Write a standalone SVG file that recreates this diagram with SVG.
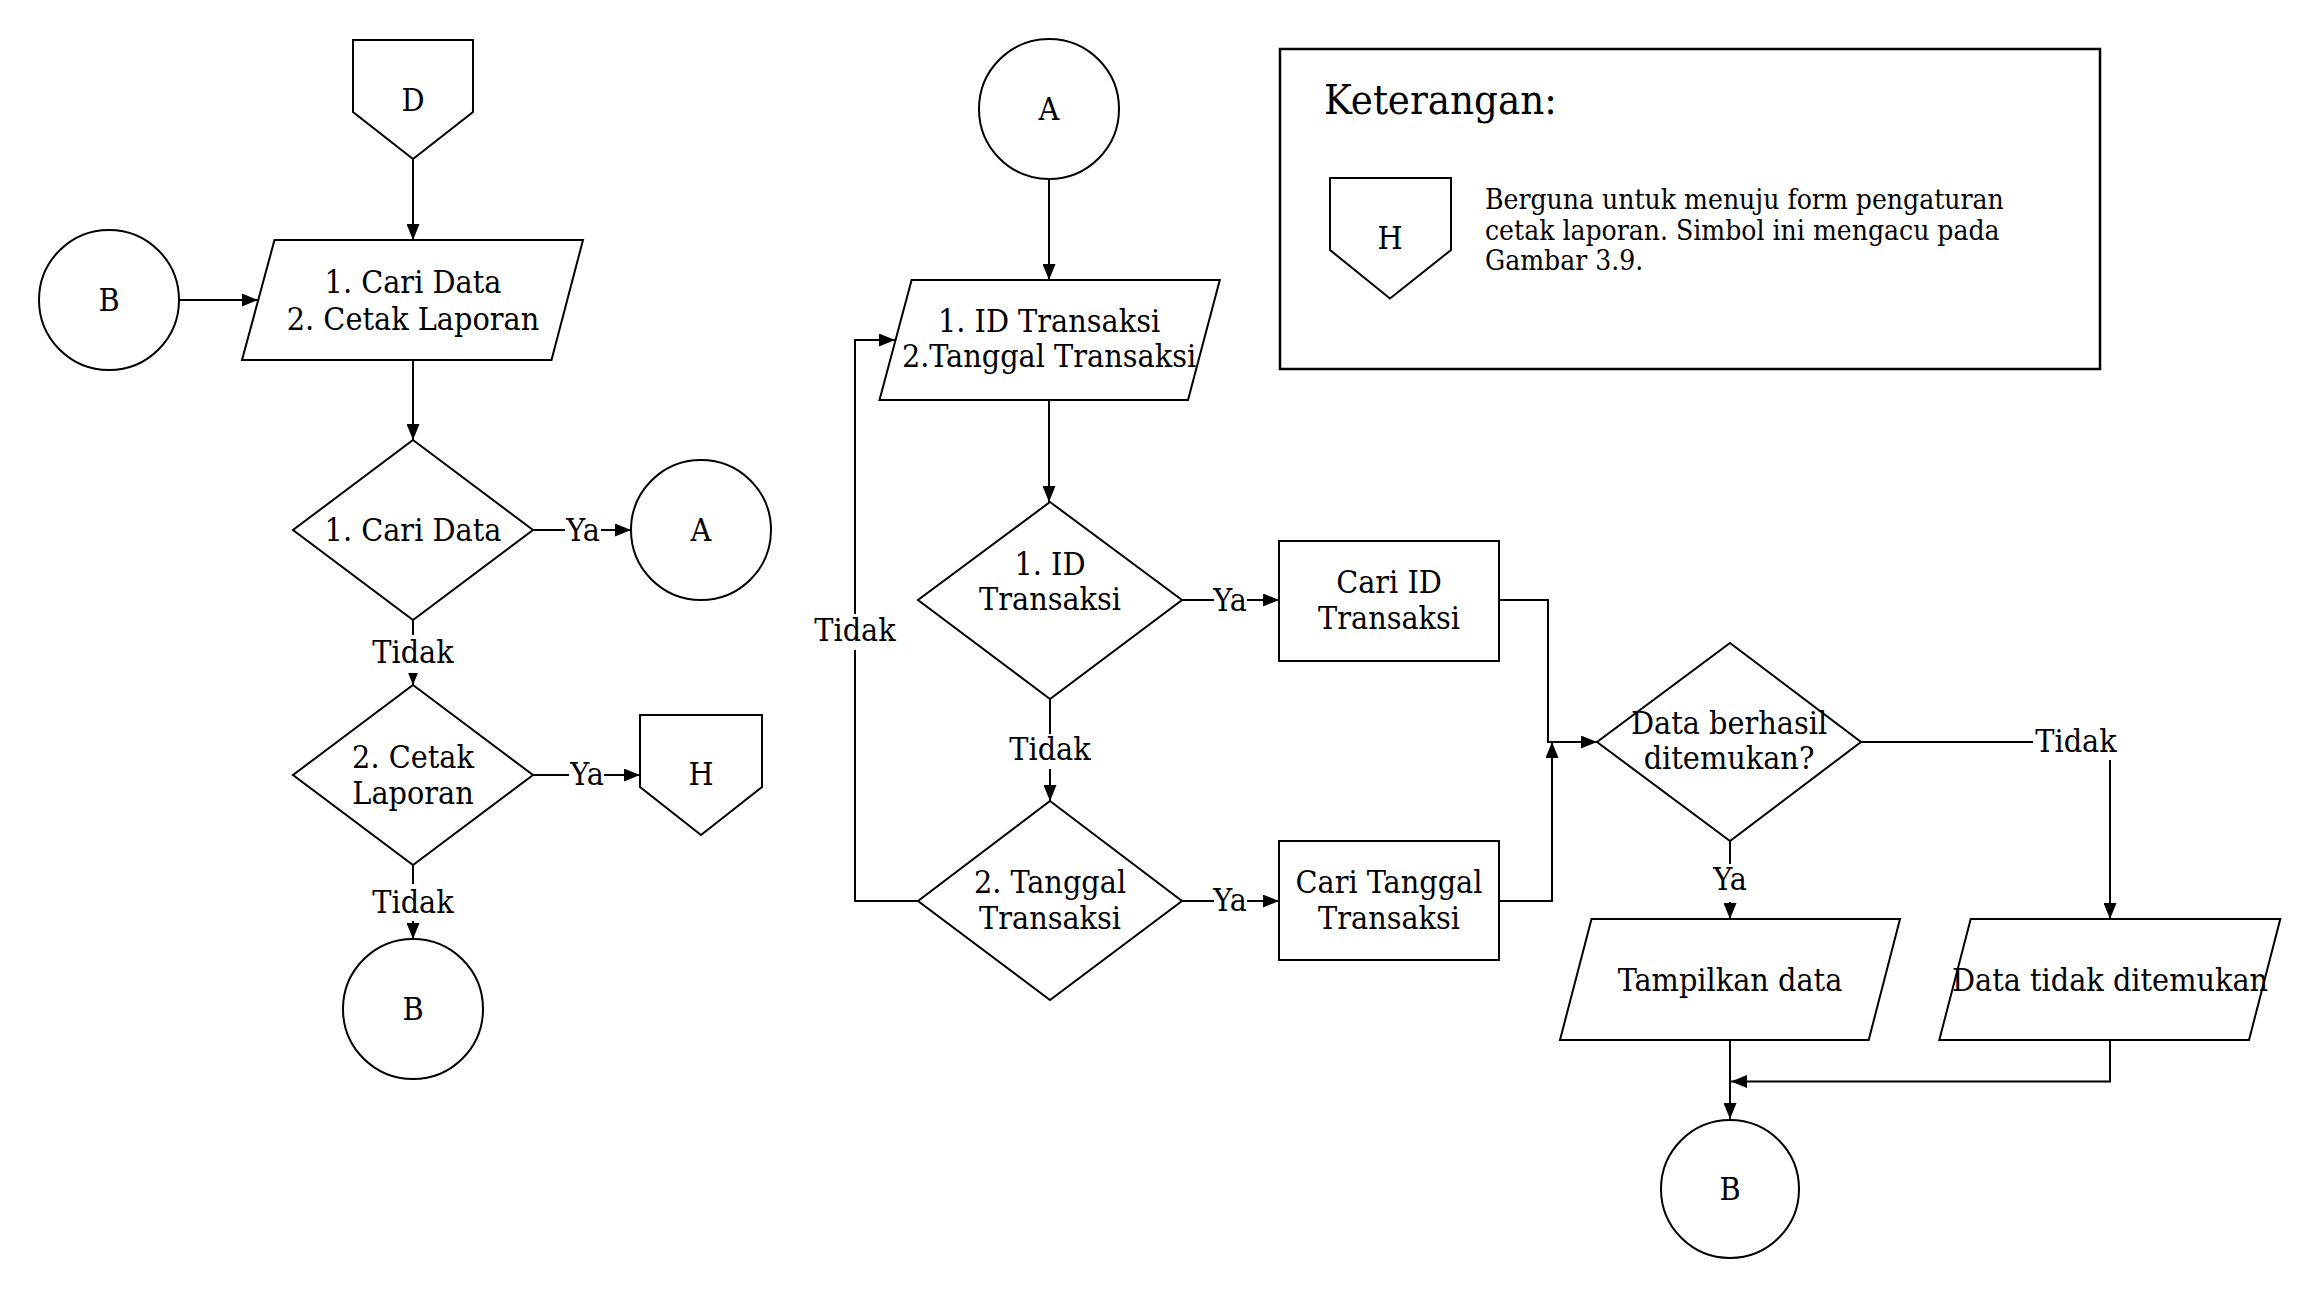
<svg xmlns="http://www.w3.org/2000/svg" width="2320" height="1299" viewBox="0 0 2320 1299">
<style>
.s{fill:#fff;stroke:#000;stroke-width:2}
.t{font-family:"DejaVu Serif","Liberation Serif",serif;font-stretch:condensed;font-size:32px;text-anchor:middle;fill:#000}
.c{fill:none;stroke:#000;stroke-width:2}
.lb{fill:#fff}
</style>
<defs>
<marker id="ah" markerUnits="userSpaceOnUse" markerWidth="16" markerHeight="13" refX="16" refY="6.5" orient="auto"><path d="M0,0 L16,6.5 L0,13 z" fill="#000"/></marker>
</defs>
<rect width="2320" height="1299" fill="#fff"/>
<g id="connectors">
<path class="c" d="M413,159 V240" marker-end="url(#ah)"/>
<path class="c" d="M179,300 H258" marker-end="url(#ah)"/>
<path class="c" d="M413,360 V440" marker-end="url(#ah)"/>
<path class="c" d="M533,530 H631" marker-end="url(#ah)"/>
<path class="c" d="M413,620 V685" marker-end="url(#ah)"/>
<path class="c" d="M533,775 H640" marker-end="url(#ah)"/>
<path class="c" d="M413,865 V939" marker-end="url(#ah)"/>
<path class="c" d="M1049,179 V280" marker-end="url(#ah)"/>
<path class="c" d="M1049,400 V502" marker-end="url(#ah)"/>
<path class="c" d="M1182,600 H1279" marker-end="url(#ah)"/>
<path class="c" d="M1050,699 V801" marker-end="url(#ah)"/>
<path class="c" d="M918,901 H855 V340 H895" marker-end="url(#ah)"/>
<path class="c" d="M1182,901 H1279" marker-end="url(#ah)"/>
<path class="c" d="M1499,600 H1548 V742 H1597" marker-end="url(#ah)"/>
<path class="c" d="M1499,901 H1552 V742" marker-end="url(#ah)"/>
<path class="c" d="M1861,742 H2110 V919" marker-end="url(#ah)"/>
<path class="c" d="M1730,841 V919" marker-end="url(#ah)"/>
<path class="c" d="M1730,1040 V1119" marker-end="url(#ah)"/>
<path class="c" d="M2110,1040 V1081.5 H1731" marker-end="url(#ah)"/>
</g>
<g id="labels">
<rect class="lb" x="565" y="514" width="36" height="34"/><text class="t" x="583" y="541">Ya</text>
<rect class="lb" x="369" y="635" width="88" height="38"/><text class="t" x="413" y="663">Tidak</text>
<rect class="lb" x="569" y="758" width="35" height="34"/><text class="t" x="587" y="785">Ya</text>
<rect class="lb" x="369" y="884" width="88" height="37"/><text class="t" x="413" y="913">Tidak</text>
<rect class="lb" x="1214" y="583" width="33" height="34"/><text class="t" x="1230" y="611">Ya</text>
<rect class="lb" x="1006" y="734" width="88" height="35"/><text class="t" x="1050" y="760">Tidak</text>
<rect class="lb" x="811" y="614" width="88" height="36"/><text class="t" x="855" y="641">Tidak</text>
<rect class="lb" x="1214" y="884" width="33" height="34"/><text class="t" x="1230" y="911">Ya</text>
<rect class="lb" x="2033" y="722" width="88" height="38"/><text class="t" x="2076" y="752">Tidak</text>
<rect class="lb" x="1712" y="864" width="36" height="38"/><text class="t" x="1730" y="890">Ya</text>
</g>
<g id="node-d"><polygon class="s" points="353,40 473,40 473,112 413,159 353,112"/><text class="t" x="413" y="111">D</text></g>
<g id="node-input1"><polygon class="s" points="274.5,240 583,240 551.5,360 242,360"/><text class="t" x="413" y="293">1. Cari Data</text><text class="t" x="413" y="330">2. Cetak Laporan</text></g>
<g id="node-b1"><circle class="s" cx="109" cy="300" r="70"/><text class="t" x="109" y="311">B</text></g>
<g id="node-dec1"><polygon class="s" points="413,440 533,530 413,620 293,530"/><text class="t" x="413" y="541">1. Cari Data</text></g>
<g id="node-a1"><circle class="s" cx="701" cy="530" r="70"/><text class="t" x="701" y="541">A</text></g>
<g id="node-dec2"><polygon class="s" points="413,685 533,775 413,865 293,775"/><text class="t" x="413" y="768">2. Cetak</text><text class="t" x="413" y="804">Laporan</text></g>
<g id="node-h1"><polygon class="s" points="640,715 762,715 762,787 701,835 640,787"/><text class="t" x="701" y="785">H</text></g>
<g id="node-b2"><circle class="s" cx="413" cy="1009" r="70"/><text class="t" x="413" y="1020">B</text></g>
<g id="node-a2"><circle class="s" cx="1049" cy="109" r="70"/><text class="t" x="1049" y="120">A</text></g>
<g id="node-input2"><polygon class="s" points="911.6,280 1219.8,280 1188,400 879.5,400"/><text class="t" x="1049" y="332">1. ID Transaksi</text><text class="t" x="1049" y="367">2.Tanggal Transaksi</text></g>
<g id="node-dec3"><polygon class="s" points="1050,502 1182,600 1050,699 918,600"/><text class="t" x="1050" y="575">1. ID</text><text class="t" x="1050" y="610">Transaksi</text></g>
<g id="node-cariid"><rect class="s" x="1279" y="541" width="220" height="120"/><text class="t" x="1389" y="593">Cari ID</text><text class="t" x="1389" y="629">Transaksi</text></g>
<g id="node-dec5"><polygon class="s" points="1050,801 1182,901 1050,1000 918,901"/><text class="t" x="1050" y="893">2. Tanggal</text><text class="t" x="1050" y="929">Transaksi</text></g>
<g id="node-caritgl"><rect class="s" x="1279" y="841" width="220" height="119"/><text class="t" x="1389" y="893">Cari Tanggal</text><text class="t" x="1389" y="929">Transaksi</text></g>
<g id="node-dec6"><polygon class="s" points="1730,643 1861,742 1730,841 1597,742"/><text class="t" x="1729" y="734">Data berhasil</text><text class="t" x="1729" y="769">ditemukan?</text></g>
<g id="node-tampil"><polygon class="s" points="1591.5,919 1900,919 1868.7,1040 1560,1040"/><text class="t" x="1730" y="991">Tampilkan data</text></g>
<g id="node-tidak"><polygon class="s" points="1970.7,919 2280.3,919 2249,1040 1939.3,1040"/><text class="t" x="2110" y="991">Data tidak ditemukan</text></g>
<g id="node-b3"><circle class="s" cx="1730" cy="1189" r="69"/><text class="t" x="1730" y="1200">B</text></g>
<g id="legend">
<rect x="1280" y="49" width="820" height="320" fill="#fff" stroke="#000" stroke-width="2.5"/>
<text class="t" x="1324" y="114" style="text-anchor:start;font-size:41.5px">Keterangan:</text>
<polygon class="s" points="1330,178 1451,178 1451,250 1390,298.5 1330,250"/>
<text class="t" x="1390" y="249">H</text>
<text class="t" style="text-anchor:start;font-size:28px" x="1485" y="208.5">Berguna untuk menuju form pengaturan</text>
<text class="t" style="text-anchor:start;font-size:28px" x="1485" y="239.5">cetak laporan. Simbol ini mengacu pada</text>
<text class="t" style="text-anchor:start;font-size:28px" x="1485" y="269.5">Gambar 3.9.</text>
</g>
</svg>
